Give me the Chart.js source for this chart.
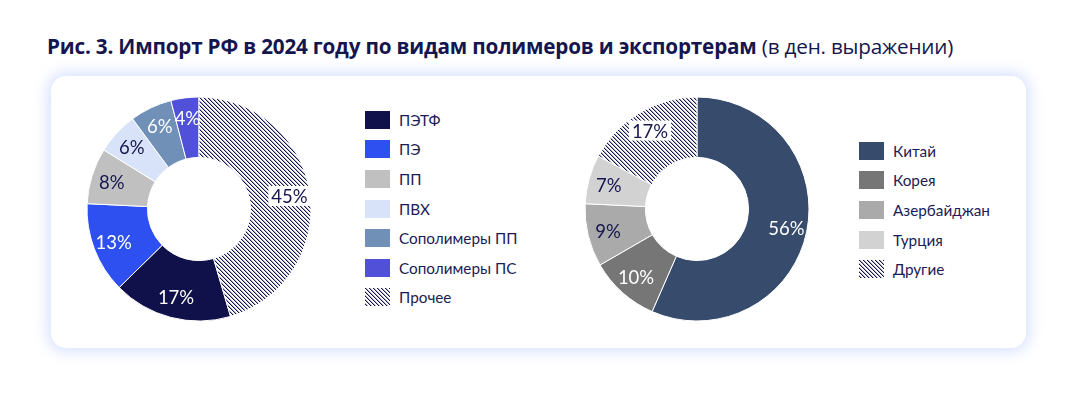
<!DOCTYPE html>
<html lang="ru">
<head>
<meta charset="utf-8">
<script src="https://cdn.jsdelivr.net/npm/chart.js@4"></script>
<style>
  body { margin: 0; background: #fff; width: 1074px; height: 399px; position: relative; overflow: hidden; font-family: Lato, "Noto Sans", sans-serif; color: #1b1b55; }
  #title { position: absolute; left: 47px; top: 32px; font-family: "Open Sans", "Noto Sans", sans-serif; font-size: 20.7px; color: #15154f; white-space: nowrap; letter-spacing: -0.2px; }
  #title b { font-weight: 700; }
  #card { position: absolute; left: 51px; top: 76px; width: 975px; height: 272px; background: #fff; border-radius: 15px; box-shadow: 0 0 14px 4px rgba(205, 218, 255, 0.75); }
  canvas.pie { position: absolute; }
  .legend { position: absolute; }
  .row { display: flex; align-items: center; height: 29.6px; font-size: 15.3px; color: #1b1b55; }
  .sw { width: 25px; height: 18px; margin-right: 9px; flex: none; }
</style>
</head>
<body>
<div id="title"><b>Рис. 3. Импорт РФ в 2024 году по видам полимеров и экспортерам</b> (в ден. выражении)</div>
<div id="card"></div>
<canvas id="c1" class="pie" width="240" height="240" style="left:79px; top:89px;"></canvas>
<canvas id="c2" class="pie" width="240" height="240" style="left:577px; top:89px;"></canvas>
<div id="leg1" class="legend" style="left:365px; top:105px;"></div>
<div id="leg2" class="legend" style="left:859px; top:136px;"></div>
<script>
// данные
const polymerLabels = ['ПЭТФ', 'ПЭ', 'ПП', 'ПВХ', 'Сополимеры ПП', 'Сополимеры ПС', 'Прочее'];
const polymerShares = [17, 13, 8, 6, 6, 4, 45];
const exporterLabels = ['Китай', 'Корея', 'Азербайджан', 'Турция', 'Другие'];
const exporterShares = [56, 10, 9, 7, 17];

const navy = '#15154f';

// штриховка
const tile = document.createElement('canvas');
tile.width = 4; tile.height = 4;
const tctx = tile.getContext('2d');
tctx.fillStyle = '#fff';
tctx.fillRect(0, 0, 4, 4);
for (let i = 0; i < 4; i++) {
    tctx.fillStyle = navy;
    tctx.fillRect(i, i, 1, 1);
    tctx.fillStyle = 'rgba(21,21,79,0.35)';
    tctx.fillRect((i + 1) % 4, i, 1, 1);
}
const hatch = tctx.createPattern(tile, 'repeat');
const hatchUrl = tile.toDataURL();

const polymerColors = ['#10104a', '#2f50f0', '#c0c0c0', '#d8e2f8', '#7090b8', '#5050d8', hatch];
const polymerText = ['#fff', '#fff', navy, navy, '#fff', '#fff', navy];
const exporterColors = ['#374c6c', '#767676', '#aaaaaa', '#d2d2d2', hatch];
const exporterText = ['#fff', '#fff', navy, navy, navy];

const pctLabels = {
    id: 'pctLabels',
    afterDatasetsDraw(chart, args, opts) {
        const ctx = chart.ctx;
        const meta = chart.getDatasetMeta(0);
        const values = chart.data.datasets[0].data;
        ctx.save();
        ctx.font = '18.5px Lato, sans-serif';
        ctx.textAlign = 'center';
        ctx.textBaseline = 'middle';
        meta.data.forEach((arc, i) => {
            const p = arc.getProps(['x', 'y', 'startAngle', 'endAngle', 'innerRadius', 'outerRadius'], true);
            const a = (p.startAngle + p.endAngle) / 2;
            const r = p.innerRadius + 0.66 * (p.outerRadius - p.innerRadius);
            const x = p.x + Math.cos(a) * r;
            const y = p.y + Math.sin(a) * r;
            const txt = values[i] + '%';
            if (chart.data.datasets[0].backgroundColor[i] === hatch) {
                const w = ctx.measureText(txt).width;
                ctx.fillStyle = '#fff';
                ctx.fillRect(x - w / 2 - 3, y - 10, w + 6, 20);
            }
            ctx.fillStyle = opts.colors[i];
            ctx.fillText(txt, x, y + 1);
        });
        ctx.restore();
    }
};

function donut(id, labels, values, colors, textColors, rotation) {
    return new Chart(document.getElementById(id), {
        type: 'doughnut',
        data: {
            labels: labels,
            datasets: [{
                data: values,
                backgroundColor: colors,
                borderColor: '#fff',
                borderWidth: 1
            }]
        },
        options: {
            responsive: false,
            animation: false,
            radius: 112,
            cutout: 55,
            rotation: rotation,
            layout: { padding: 0 },
            plugins: {
                legend: { display: false },
                tooltip: { enabled: false },
                pctLabels: { colors: textColors }
            }
        },
        plugins: [pctLabels]
    });
}

const sum1 = polymerShares.reduce((a, b) => a + b, 0);
donut('c1', polymerLabels, polymerShares, polymerColors, polymerText, polymerShares[polymerShares.length - 1] / sum1 * 360);
donut('c2', exporterLabels, exporterShares, exporterColors, exporterText, 0);

function legend(id, labels, colors) {
    const box = document.getElementById(id);
    labels.forEach((lab, i) => {
        const row = document.createElement('div');
        row.className = 'row';
        const sw = document.createElement('div');
        sw.className = 'sw';
        if (colors[i] === hatch) sw.style.backgroundImage = 'url(' + hatchUrl + ')';
        else sw.style.background = colors[i];
        const t = document.createElement('span');
        t.textContent = lab;
        row.appendChild(sw);
        row.appendChild(t);
        box.appendChild(row);
    });
}
legend('leg1', polymerLabels, polymerColors);
legend('leg2', exporterLabels, exporterColors);
</script>
</body>
</html>
